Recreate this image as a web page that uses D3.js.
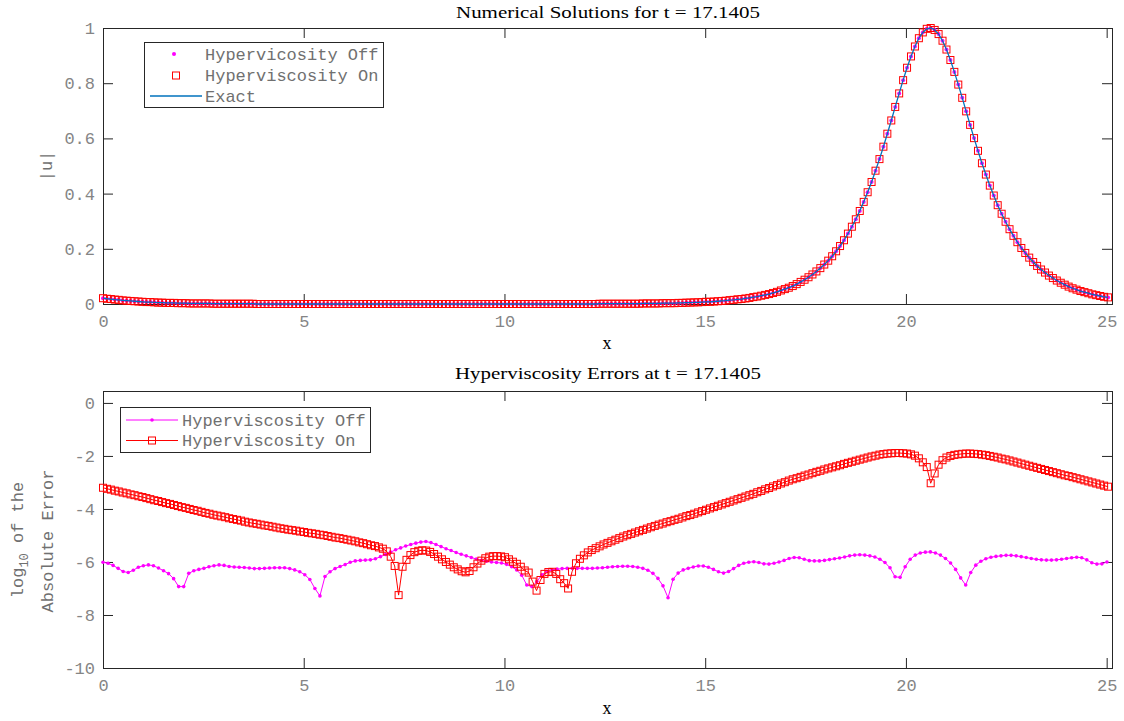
<!DOCTYPE html>
<html>
<head>
<meta charset="utf-8">
<script src="https://cdn.jsdelivr.net/npm/d3@7/dist/d3.min.js"></script>
<style>
  html, body { margin: 0; padding: 0; background: #fff; }
  svg { display: block; }
</style>
</head>
<body>
<svg id="fig" width="1124" height="721"></svg>
<script>
// Periodic domain [0, 8*pi); solutions sampled on two uniform grids
const domainLength = 8 * Math.PI;
const nFine = 256;    // grid of |u| and of the hyperviscous run
const nCoarse = 200;  // grid of the run without hyperviscosity
const xTicks = [0, 5, 10, 15, 20, 25];
const uTicks = [0, 0.2, 0.4, 0.6, 0.8, 1];
const errTicks = [0, -2, -4, -6, -8, -10];

// |u| at t = 17.1405, exact soliton
const uExact = [
  0.021,0.019,0.018,0.016,0.015,0.013,0.012,0.011,0.010,0.009,
  0.008,0.007,0.007,0.006,0.005,0.005,0.004,0.004,0.004,0.003,
  0.003,0.003,0.002,0.002,0.002,0.002,0.002,0.002,0.001,0.001,
  0.001,0.001,0.001,0.001,0.001,0.001,0.001,0.001,0.001,0,
  0,0,0,0,0,0,0,0,0,0, 0,0,0,0,0,0,0,0,0,0,
  0,0,0,0,0,0,0,0,0,0, 0,0,0,0,0,0,0,0,0,0,
  0,0,0,0,0,0,0,0,0,0, 0,0,0,0,0,0,0,0,0,0,
  0,0,0,0,0,0,0,0,0,0, 0,0,0,0,0,0,0,0,0,0,
  0,0,0,0,0,0,
  0.001,0.001,0.001,0.001,
  0.001,0.001,0.001,0.001,0.001,0.001,0.001,0.002,0.002,0.002,
  0.002,0.002,0.003,0.003,0.003,0.003,0.004,0.004,0.005,0.005,
  0.006,0.006,0.007,0.008,0.008,0.009,0.010,0.011,0.012,0.014,
  0.015,0.017,0.018,0.020,0.022,0.025,0.027,0.030,0.033,0.036,
  0.040,0.044,0.049,0.054,0.059,0.065,0.072,0.080,0.088,0.097,
  0.107,0.118,0.130,0.143,0.157,0.173,0.191,0.210,0.231,0.255,
  0.280,0.307,0.337,0.370,0.405,0.442,0.483,0.525,0.570,0.617,
  0.665,0.714,0.763,0.811,0.856,0.897,0.933,0.963,0.984,0.997,
  1.000,0.993,0.978,0.954,0.922,0.884,0.841,0.795,0.747,0.698,
  0.649,0.601,0.555,0.510,0.469,0.429,0.393,0.358,0.327,0.298,
  0.271,0.247,0.224,0.203,0.185,0.168,0.152,0.138,0.125,0.114,
  0.103,0.094,0.085,0.077,0.070,0.063,0.057,0.052,0.047,0.043,
  0.039,0.035,0.032,0.029,0.026,0.024
];

// |u| from the run without hyperviscosity
const uOff = [
  0.021,0.019,0.018,0.016,0.015,0.013,0.012,0.011,0.010,0.009,
  0.008,0.007,0.007,0.006,0.005,0.005,0.004,0.004,0.004,0.003,
  0.003,0.003,0.002,0.002,0.002,0.002,0.002,0.002,0.001,0.001,
  0.001,0.001,0.001,0.001,0.001,0.001,0.001,0.001,0.001,0,
  0,0,0,0,0,0,0,0,0,0, 0,0,0,0,0,0,0,0,0,0,
  0,0,0,0,0,0,0,0,0,0, 0,0,0,0,0,0,0,0,0,0,
  0,0,0,0,0,0,0,0,0,0, 0,0,0,0,0,0,0,0,0,0,
  0,0,0,0,0,0,0,0,0,0, 0,0,0,0,0,0,0,0,0,0,
  0,0,0,0,0,0,
  0.001,0.001,0.001,0.001,
  0.001,0.001,0.001,0.001,0.001,0.001,0.001,0.002,0.002,0.002,
  0.002,0.002,0.003,0.003,0.003,0.003,0.004,0.004,0.005,0.005,
  0.006,0.006,0.007,0.008,0.008,0.009,0.010,0.011,0.012,0.014,
  0.015,0.017,0.018,0.020,0.022,0.025,0.027,0.030,0.033,0.036,
  0.040,0.044,0.049,0.054,0.059,0.065,0.072,0.080,0.088,0.097,
  0.107,0.118,0.130,0.143,0.157,0.173,0.191,0.210,0.231,0.255,
  0.280,0.307,0.337,0.370,0.405,0.442,0.483,0.525,0.570,0.617,
  0.665,0.714,0.763,0.811,0.856,0.897,0.933,0.963,0.984,0.997,
  1.000,0.993,0.978,0.954,0.922,0.884,0.841,0.795,0.747,0.698,
  0.649,0.601,0.555,0.510,0.469,0.429,0.393,0.358,0.327,0.298,
  0.271,0.247,0.224,0.203,0.185,0.168,0.152,0.138,0.125,0.114,
  0.103,0.094,0.085,0.077,0.070,0.063,0.057,0.052,0.047,0.043,
  0.039,0.035,0.032,0.029,0.026,0.024
];

// |u| from the hyperviscous run
const uOn = [
  0.021,0.019,0.018,0.016,0.015,0.013,0.012,0.011,0.010,0.009,
  0.008,0.007,0.007,0.006,0.005,0.005,0.004,0.004,0.004,0.003,
  0.003,0.003,0.002,0.002,0.002,0.002,0.002,0.002,0.001,0.001,
  0.001,0.001,0.001,0.001,0.001,0.001,0.001,0.001,0.001,0,
  0,0,0,0,0,0,0,0,0,0, 0,0,0,0,0,0,0,0,0,0,
  0,0,0,0,0,0,0,0,0,0, 0,0,0,0,0,0,0,0,0,0,
  0,0,0,0,0,0,0,0,0,0, 0,0,0,0,0,0,0,0,0,0,
  0,0,0,0,0,0,0,0,0,0, 0,0,0,0,0,0,0,0,0,0,
  0,0,0,0,0,0,
  0.001,0.001,0.001,0.001,
  0.001,0.001,0.001,0.001,0.001,0.001,0.001,0.002,0.002,0.002,
  0.002,0.002,0.003,0.003,0.003,0.003,0.004,0.004,0.005,0.005,
  0.006,0.006,0.007,0.008,0.008,0.009,0.010,0.011,0.012,0.014,
  0.015,0.017,0.018,0.020,0.022,0.025,0.027,0.030,0.033,0.036,
  0.040,0.044,0.049,0.054,0.059,0.065,0.072,0.080,0.088,0.097,
  0.107,0.118,0.130,0.143,0.157,0.173,0.191,0.210,0.231,0.255,
  0.280,0.307,0.337,0.370,0.405,0.442,0.483,0.525,0.570,0.617,
  0.665,0.714,0.763,0.811,0.856,0.897,0.933,0.963,0.984,0.997,
  1.000,0.993,0.978,0.954,0.922,0.884,0.841,0.795,0.747,0.698,
  0.649,0.601,0.555,0.510,0.469,0.429,0.393,0.358,0.327,0.298,
  0.271,0.247,0.224,0.203,0.185,0.168,0.152,0.138,0.125,0.114,
  0.103,0.094,0.085,0.077,0.070,0.063,0.057,0.052,0.047,0.043,
  0.039,0.035,0.032,0.029,0.026,0.024
];

// log10 of the absolute error, run without hyperviscosity (coarse grid)
const errOff = [
  -6.01,-6.05,-6.13,-6.24,-6.36,-6.40,-6.31,-6.20,-6.14,-6.11,
  -6.14,-6.23,-6.33,-6.44,-6.63,-6.93,-6.93,-6.43,-6.33,-6.28,
  -6.24,-6.18,-6.14,-6.11,-6.13,-6.17,-6.19,-6.20,-6.21,-6.23,
  -6.25,-6.25,-6.24,-6.23,-6.22,-6.22,-6.22,-6.25,-6.30,-6.37,
  -6.48,-6.66,-7.00,-7.28,-6.55,-6.37,-6.25,-6.17,-6.10,-6.01,
  -5.96,-5.94,-5.93,-5.92,-5.88,-5.80,-5.72,-5.63,-5.54,-5.47,
  -5.40,-5.34,-5.29,-5.25,-5.23,-5.27,-5.34,-5.42,-5.50,-5.57,
  -5.64,-5.71,-5.77,-5.83,-5.89,-5.94,-5.97,-6.00,-6.02,-6.04,
  -6.09,-6.18,-6.30,-6.50,-6.87,-6.93,-6.74,-6.48,-6.35,-6.30,
  -6.27,-6.25,-6.24,-6.24,-6.24,-6.24,-6.24,-6.24,-6.23,-6.22,
  -6.20,-6.18,-6.17,-6.16,-6.16,-6.17,-6.20,-6.24,-6.31,-6.43,
  -6.62,-6.90,-7.35,-6.65,-6.42,-6.30,-6.24,-6.19,-6.15,-6.15,
  -6.20,-6.28,-6.37,-6.42,-6.36,-6.25,-6.13,-6.05,-6.01,-5.99,
  -6.02,-6.07,-6.08,-6.05,-6.00,-5.94,-5.87,-5.83,-5.84,-5.90,
  -5.95,-5.96,-5.96,-5.94,-5.91,-5.88,-5.85,-5.81,-5.77,-5.74,
  -5.73,-5.74,-5.77,-5.81,-5.90,-6.02,-6.22,-6.56,-6.58,-6.18,
  -5.90,-5.74,-5.66,-5.63,-5.62,-5.66,-5.74,-5.87,-6.04,-6.28,
  -6.60,-6.87,-6.40,-6.12,-5.97,-5.88,-5.82,-5.79,-5.77,-5.75,
  -5.75,-5.77,-5.80,-5.83,-5.87,-5.90,-5.92,-5.93,-5.93,-5.92,
  -5.90,-5.87,-5.84,-5.82,-5.84,-5.92,-6.03,-6.08,-6.07,-6.00
];

// log10 of the absolute error, hyperviscous run (fine grid)
const errOn = [
  -3.20,-3.24,-3.27,-3.31,-3.34,-3.38,-3.41,-3.45,-3.48,-3.52,
  -3.55,-3.59,-3.63,-3.67,-3.70,-3.74,-3.78,-3.81,-3.85,-3.89,
  -3.93,-3.96,-4.00,-4.04,-4.07,-4.11,-4.15,-4.18,-4.22,-4.25,
  -4.28,-4.31,-4.35,-4.38,-4.41,-4.44,-4.48,-4.51,-4.54,-4.56,
  -4.59,-4.62,-4.64,-4.67,-4.70,-4.73,-4.75,-4.78,-4.80,-4.82,
  -4.85,-4.87,-4.90,-4.92,-4.94,-4.97,-4.99,-5.02,-5.05,-5.08,
  -5.10,-5.13,-5.16,-5.19,-5.22,-5.26,-5.29,-5.33,-5.37,-5.40,
  -5.45,-5.50,-5.60,-5.80,-6.15,-7.25,-6.18,-5.92,-5.74,-5.63,
  -5.58,-5.56,-5.57,-5.62,-5.70,-5.80,-5.90,-6.00,-6.10,-6.20,
  -6.28,-6.35,-6.39,-6.34,-6.20,-6.06,-5.95,-5.86,-5.80,-5.78,
  -5.78,-5.79,-5.82,-5.90,-5.99,-6.07,-6.18,-6.32,-6.40,-6.74,
  -7.08,-6.68,-6.45,-6.38,-6.37,-6.45,-6.65,-6.80,-7.00,-6.37,
  -6.05,-5.88,-5.75,-5.64,-5.55,-5.48,-5.41,-5.34,-5.28,-5.22,
  -5.16,-5.10,-5.04,-4.99,-4.94,-4.89,-4.84,-4.79,-4.74,-4.69,
  -4.64,-4.59,-4.55,-4.50,-4.46,-4.41,-4.37,-4.32,-4.27,-4.23,
  -4.18,-4.13,-4.08,-4.03,-3.98,-3.93,-3.88,-3.83,-3.78,-3.73,
  -3.68,-3.63,-3.58,-3.53,-3.48,-3.43,-3.37,-3.32,-3.26,-3.21,
  -3.15,-3.10,-3.04,-2.99,-2.93,-2.88,-2.84,-2.79,-2.74,-2.70,
  -2.65,-2.60,-2.56,-2.51,-2.47,-2.43,-2.39,-2.35,-2.30,-2.26,
  -2.22,-2.18,-2.14,-2.10,-2.06,-2.02,-1.99,-1.95,-1.93,-1.91,
  -1.90,-1.89,-1.89,-1.90,-1.91,-1.94,-1.99,-2.09,-2.24,-2.42,
  -3.03,-2.66,-2.33,-2.16,-2.06,-2.00,-1.96,-1.94,-1.92,-1.91,
  -1.91,-1.92,-1.93,-1.95,-1.97,-2.00,-2.03,-2.06,-2.10,-2.13,
  -2.17,-2.21,-2.25,-2.29,-2.33,-2.37,-2.41,-2.45,-2.49,-2.53,
  -2.57,-2.61,-2.65,-2.69,-2.73,-2.76,-2.80,-2.84,-2.88,-2.92,
  -2.96,-3.00,-3.04,-3.08,-3.12,-3.16
];

// ---- styling ----
const MONO = "'Liberation Mono', 'DejaVu Sans Mono', monospace";
const SERIF = "'Liberation Serif', 'DejaVu Serif', serif";
const AXIS_COLOR = '#262626';
const TICK_TEXT = '#858585';
const LABEL_TEXT = '#707070';
const MAGENTA = '#ff00ff';
const RED = '#ff0000';
const BLUE = '#0072bd';
const SQ = 7;

const svg = d3.select('#fig');

const boxLeft = 103, boxRight = 1112;
const xTop = d3.scaleLinear().domain([0, domainLength]).range([boxLeft, boxRight]);
const xBot = d3.scaleLinear().domain([0, domainLength]).range([boxLeft, boxRight]);
const yTop = d3.scaleLinear().domain([0, 1]).range([304, 28]);
const yBot = d3.scaleLinear().domain([-10, 0.45]).range([668, 391]);

const fineX = i => i * domainLength / nFine;
const coarseX = i => i * domainLength / nCoarse;

function drawFrame(x, y, yTickVals) {
  const [xl, xr] = x.range();
  const [yb, yt] = y.range();
  const g = svg.append('g');
  g.append('g').attr('transform', `translate(0,${yb})`)
    .call(d3.axisBottom(x).tickValues(xTicks).tickSizeInner(-10).tickSizeOuter(0)
      .tickPadding(11).tickFormat(d => String(d)));
  g.append('g').attr('transform', `translate(0,${yt})`)
    .call(d3.axisTop(x).tickValues(xTicks).tickSizeInner(-10).tickSizeOuter(0).tickFormat(''));
  g.append('g').attr('transform', `translate(${xl},0)`)
    .call(d3.axisLeft(y).tickValues(yTickVals).tickSizeInner(-10).tickSizeOuter(0)
      .tickPadding(8).tickFormat(d => String(d)));
  g.append('g').attr('transform', `translate(${xr},0)`)
    .call(d3.axisRight(y).tickValues(yTickVals).tickSizeInner(-10).tickSizeOuter(0).tickFormat(''));
  g.selectAll('.domain').remove();
  g.selectAll('.tick line').attr('stroke', AXIS_COLOR).attr('stroke-width', 1);
  g.selectAll('.tick text')
    .attr('font-family', MONO).attr('font-size', 17).attr('fill', TICK_TEXT);
  g.append('rect')
    .attr('x', xl + 0.5).attr('y', yt + 0.5)
    .attr('width', xr - xl).attr('height', yb - yt)
    .attr('fill', 'none').attr('stroke', AXIS_COLOR).attr('stroke-width', 1);
  return g;
}

function squares(g, data, xf, x, y) {
  g.selectAll(null).data(data).join('rect')
    .attr('x', (d, i) => x(xf(i)) - SQ / 2)
    .attr('y', d => y(d) - SQ / 2)
    .attr('width', SQ).attr('height', SQ)
    .attr('fill', 'none').attr('stroke', RED).attr('stroke-width', 1);
}

function dots(g, data, xf, x, y, r) {
  g.selectAll(null).data(data).join('circle')
    .attr('cx', (d, i) => x(xf(i)))
    .attr('cy', d => y(d))
    .attr('r', r).attr('fill', MAGENTA);
}

// ---- top panel: |u| ----
drawFrame(xTop, yTop, uTicks);
const gTop = svg.append('g');
dots(gTop, uOff, fineX, xTop, yTop, 2);
squares(gTop, uOn, fineX, xTop, yTop);
gTop.append('path')
  .datum(uExact)
  .attr('d', d3.line().x((d, i) => xTop(fineX(i))).y(d => yTop(d)))
  .attr('fill', 'none').attr('stroke', BLUE).attr('stroke-width', 1.3);

svg.append('text').attr('x', 608).attr('y', 18).attr('text-anchor', 'middle')
  .attr('font-family', SERIF).attr('font-size', 17).attr('fill', '#000')
  .attr('textLength', 304).attr('lengthAdjust', 'spacingAndGlyphs')
  .text('Numerical Solutions for t = 17.1405');
svg.append('text').attr('x', 607).attr('y', 349).attr('text-anchor', 'middle')
  .attr('font-family', SERIF).attr('font-size', 18).attr('fill', '#000').text('x');
svg.append('text').attr('transform', 'translate(52,166) rotate(-90)')
  .attr('text-anchor', 'middle').attr('font-family', MONO).attr('font-size', 17)
  .attr('fill', LABEL_TEXT).text('|u|');

// top legend
const lgTop = svg.append('g');
lgTop.append('rect').attr('x', 144.5).attr('y', 42.5).attr('width', 239).attr('height', 65)
  .attr('fill', '#fff').attr('stroke', AXIS_COLOR).attr('stroke-width', 1);
lgTop.append('circle').attr('cx', 174).attr('cy', 54).attr('r', 2).attr('fill', MAGENTA);
lgTop.append('rect').attr('x', 176 - SQ / 2).attr('y', 75.5 - SQ / 2).attr('width', SQ).attr('height', SQ)
  .attr('fill', 'none').attr('stroke', RED);
lgTop.append('line').attr('x1', 150).attr('x2', 202).attr('y1', 96).attr('y2', 96)
  .attr('stroke', BLUE).attr('stroke-width', 1.3);
[['Hypervicosity Off', 54], ['Hyperviscosity On', 75.5], ['Exact', 96]].forEach(([t, yy]) => {
  lgTop.append('text').attr('x', 205).attr('y', yy).attr('dy', '0.35em')
    .attr('font-family', MONO).attr('font-size', 17).attr('fill', LABEL_TEXT).text(t);
});

// ---- bottom panel: log10 errors ----
drawFrame(xBot, yBot, errTicks);
const gBot = svg.append('g');
gBot.append('path').datum(errOff)
  .attr('d', d3.line().x((d, i) => xBot(coarseX(i))).y(d => yBot(d)))
  .attr('fill', 'none').attr('stroke', MAGENTA).attr('stroke-width', 1);
dots(gBot, errOff, coarseX, xBot, yBot, 1.8);
gBot.append('path').datum(errOn)
  .attr('d', d3.line().x((d, i) => xBot(fineX(i))).y(d => yBot(d)))
  .attr('fill', 'none').attr('stroke', RED).attr('stroke-width', 1);
squares(gBot, errOn, fineX, xBot, yBot);

svg.append('text').attr('x', 608).attr('y', 379).attr('text-anchor', 'middle')
  .attr('font-family', SERIF).attr('font-size', 17).attr('fill', '#000')
  .attr('textLength', 306).attr('lengthAdjust', 'spacingAndGlyphs')
  .text('Hyperviscosity Errors at t = 17.1405');
svg.append('text').attr('x', 607).attr('y', 714).attr('text-anchor', 'middle')
  .attr('font-family', SERIF).attr('font-size', 18).attr('fill', '#000').text('x');

const yl1 = svg.append('text').attr('transform', 'translate(23,540) rotate(-90)')
  .attr('text-anchor', 'middle').attr('font-family', MONO).attr('font-size', 17)
  .attr('fill', LABEL_TEXT);
yl1.append('tspan').text('log');
yl1.append('tspan').attr('font-size', 12).attr('dy', 5).text('10');
yl1.append('tspan').attr('dy', -5).text(' of the');
svg.append('text').attr('transform', 'translate(53,541) rotate(-90)')
  .attr('text-anchor', 'middle').attr('font-family', MONO).attr('font-size', 17)
  .attr('fill', LABEL_TEXT).text('Absolute Error');

// bottom legend
const lgBot = svg.append('g');
lgBot.append('rect').attr('x', 120.5).attr('y', 407.5).attr('width', 250).attr('height', 45)
  .attr('fill', '#fff').attr('stroke', AXIS_COLOR).attr('stroke-width', 1);
lgBot.append('line').attr('x1', 126).attr('x2', 178).attr('y1', 420).attr('y2', 420)
  .attr('stroke', MAGENTA).attr('stroke-width', 1);
lgBot.append('circle').attr('cx', 152).attr('cy', 420).attr('r', 1.8).attr('fill', MAGENTA);
lgBot.append('line').attr('x1', 126).attr('x2', 178).attr('y1', 440.5).attr('y2', 440.5)
  .attr('stroke', RED).attr('stroke-width', 1);
lgBot.append('rect').attr('x', 152 - SQ / 2).attr('y', 440.5 - SQ / 2).attr('width', SQ).attr('height', SQ)
  .attr('fill', 'none').attr('stroke', RED);
[['Hyperviscosity Off', 420], ['Hyperviscosity On', 440.5]].forEach(([t, yy]) => {
  lgBot.append('text').attr('x', 182).attr('y', yy).attr('dy', '0.35em')
    .attr('font-family', MONO).attr('font-size', 17).attr('fill', LABEL_TEXT).text(t);
});
</script>
</body>
</html>
